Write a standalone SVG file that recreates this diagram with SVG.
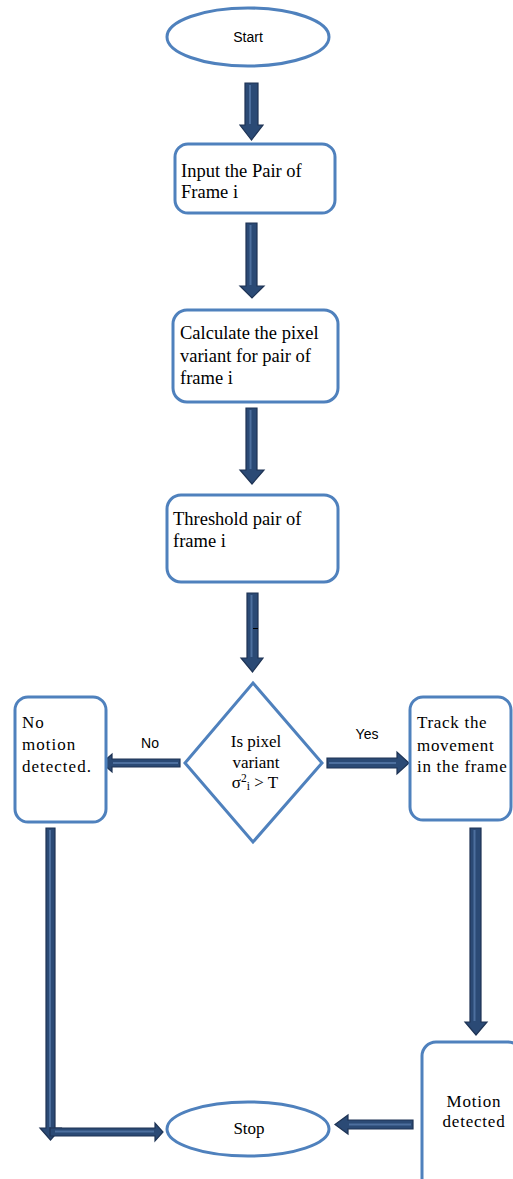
<svg xmlns="http://www.w3.org/2000/svg" width="513" height="1179" viewBox="0 0 513 1179">
<style>
.node{fill:#fff;stroke:#4f81bd;stroke-width:3}
.arr{fill:#2b4a75;stroke:#1e3354;stroke-width:1.2;stroke-linejoin:miter}
.hl{stroke:#4d6f9e;stroke-width:2;fill:none}
.serif{font-family:"Liberation Serif","Times New Roman",serif;font-size:17px;fill:#000}
.big{font-size:18.5px}
.sans{font-family:"Liberation Sans",Arial,sans-serif;font-size:14px;fill:#000}
</style>
<rect width="513" height="1179" fill="#fff"/>
<g id="connectors">
<polygon class="arr" points="245,83 258,83 258,125 263,125 251.5,140 240,125 245,125"/>
<line class="hl" x1="250" y1="85" x2="250" y2="124"/>
<polygon class="arr" points="246,223 257,223 257,286 264,286 252,298 240,286 246,286"/>
<line class="hl" x1="250.5" y1="225" x2="250.5" y2="285"/>
<polygon class="arr" points="246,408 257,408 257,470 264,470 252,484 240,470 246,470"/>
<line class="hl" x1="250.5" y1="410" x2="250.5" y2="469"/>
<polygon class="arr" points="247,593 258,593 258,658 263,658 252.5,672 241,658 247,658"/>
<line class="hl" x1="251.5" y1="595" x2="251.5" y2="657"/>
<line x1="253" y1="628.5" x2="258" y2="628.5" stroke="#000" stroke-width="1"/>
<polygon class="arr" points="180,759 180,767 112,767 112,772 102,763 112,754 112,759"/>
<line class="hl" x1="178" y1="763" x2="113" y2="763"/>
<polygon class="arr" points="327,758 397,758 397,752 409,763 397,774 397,768 327,768"/>
<line class="hl" x1="329" y1="763" x2="396" y2="763"/>
<polygon class="arr" points="470,828 481,828 481,1022 487,1022 476,1035 465,1022 470,1022"/>
<line class="hl" x1="474.5" y1="830" x2="474.5" y2="1021"/>
<polygon class="arr" points="46,828 55,828 55,1128 61,1128 50.5,1140 40,1128 46,1128"/>
<line class="hl" x1="50" y1="830" x2="50" y2="1127"/>
<polygon class="arr" points="50,1128 155,1128 155,1123 163,1132 155,1141 155,1136 50,1136"/>
<line class="hl" x1="55" y1="1131.5" x2="154" y2="1131.5"/>
<polygon class="arr" points="413,1120 413,1129 348,1129 348,1134 335,1124.5 348,1115 348,1120"/>
<line class="hl" x1="411" y1="1124.5" x2="349" y2="1124.5"/>
</g>
<g id="start">
<ellipse class="node" cx="248" cy="37" rx="81" ry="29"/>
<text class="sans" x="248" y="42" text-anchor="middle" font-size="15">Start</text>
</g>
<g id="input">
<rect class="node" x="175" y="144" width="160" height="69" rx="13"/>
<text class="serif big" x="181" y="177">Input the Pair of</text>
<text class="serif big" x="181" y="198">Frame i</text>
</g>
<g id="calculate">
<rect class="node" x="173" y="310" width="165" height="92" rx="14"/>
<text class="serif big" x="180" y="339">Calculate the pixel</text>
<text class="serif big" x="180" y="362">variant for pair of</text>
<text class="serif big" x="180" y="384">frame i</text>
</g>
<g id="threshold">
<rect class="node" x="167" y="495" width="171" height="87" rx="14"/>
<text class="serif big" x="173" y="525">Threshold pair of</text>
<text class="serif big" x="173" y="547">frame i</text>
</g>
<g id="decision">
<polygon class="node" points="253,683 322,763 253,842 185,763"/>
<text class="serif" x="256" y="747" text-anchor="middle" font-size="15.5">Is pixel</text>
<text class="serif" x="256" y="768" text-anchor="middle" font-size="15.5">variant</text>
<text class="serif" x="255" y="788" text-anchor="middle" font-size="15.5">σ<tspan font-size="11.5" dy="-6">2</tspan><tspan font-size="11.5" dy="8">i</tspan><tspan dy="-2"> &gt; T</tspan></text>
</g>
<g id="no-motion">
<rect class="node" x="15" y="697" width="91" height="125" rx="13"/>
<text class="serif" x="22" y="728" letter-spacing="1">No</text>
<text class="serif" x="22" y="750" letter-spacing="1">motion</text>
<text class="serif" x="22" y="772" letter-spacing="1">detected.</text>
</g>
<g id="track">
<rect class="node" x="410" y="697" width="101" height="123" rx="13"/>
<text class="serif" x="417" y="728" letter-spacing="0.7">Track the</text>
<text class="serif" x="417" y="751" letter-spacing="0.7">movement</text>
<text class="serif" x="417" y="772" letter-spacing="0.7">in the frame</text>
</g>
<g id="motion-detected">
<rect class="node" x="422" y="1042" width="100" height="150" rx="14"/>
<text class="serif" x="474" y="1107" text-anchor="middle" letter-spacing="0.8">Motion</text>
<text class="serif" x="474" y="1127" text-anchor="middle" letter-spacing="0.8">detected</text>
</g>
<g id="stop">
<ellipse class="node" cx="248" cy="1129" rx="81" ry="27"/>
<text class="serif" x="249" y="1134" text-anchor="middle">Stop</text>
</g>
<g id="labels">
<text class="sans" x="150" y="748" text-anchor="middle" font-size="15">No</text>
<text class="sans" x="367" y="739" text-anchor="middle">Yes</text>
</g>
</svg>
